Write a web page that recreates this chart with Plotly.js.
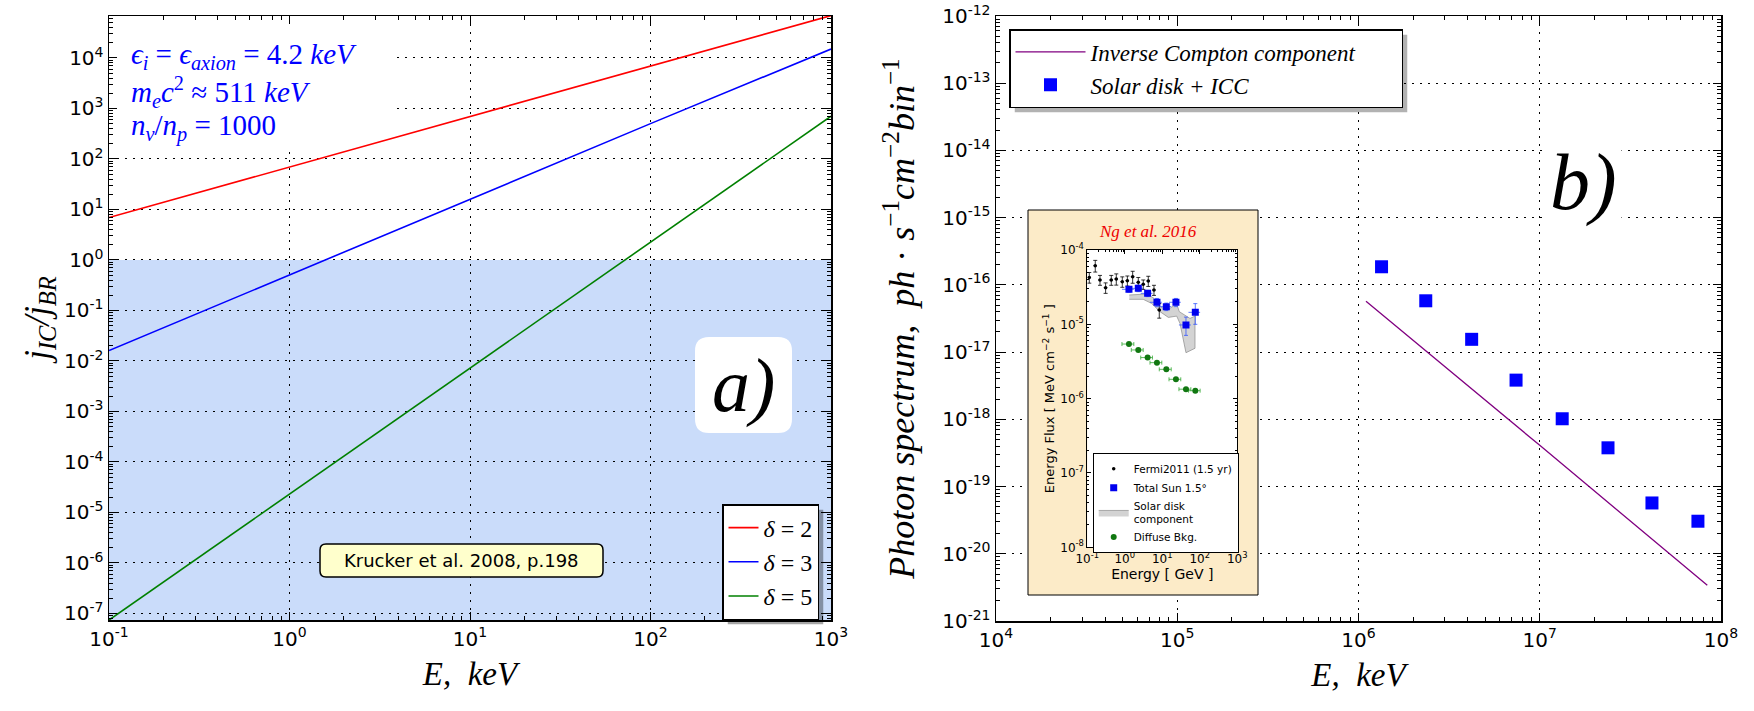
<!DOCTYPE html>
<html><head><meta charset="utf-8">
<script src="https://cdn.plot.ly/plotly-3.0.1.min.js"></script>
<style>html,body{margin:0;padding:0;background:#fff}</style>
</head><body><div id="chart" style="width:1754px;height:711px"></div>
<script>
// ---------- Panel a data ----------
const energyA = [0.1, 1, 10, 100, 1000];
const ratioDelta2 = [6.9, 69, 690, 6900, 69000];
const ratioDelta3 = [0.016, 0.5, 16, 500, 15000];
const ratioDelta5 = [7.4e-8, 2.3e-5, 7.4e-3, 2.3, 700];
const namesA = ['<i>δ</i> = 2', '<i>δ</i> = 3', '<i>δ</i> = 5'];
const xTicksA = [0.1, 1, 10, 100, 1000];
const xTickTextA = ['10<sup>-1</sup>', '10<sup>0</sup>', '10<sup>1</sup>', '10<sup>2</sup>', '10<sup>3</sup>'];
const yTicksA = [1e-7, 1e-6, 1e-5, 1e-4, 1e-3, 1e-2, 1e-1, 1, 10, 100, 1e3, 1e4];
const yTickTextA = ['10<sup>-7</sup>', '10<sup>-6</sup>', '10<sup>-5</sup>', '10<sup>-4</sup>', '10<sup>-3</sup>', '10<sup>-2</sup>', '10<sup>-1</sup>', '10<sup>0</sup>', '10<sup>1</sup>', '10<sup>2</sup>', '10<sup>3</sup>', '10<sup>4</sup>'];
const shadeLimit = 1; // Krucker et al. region j_IC/j_BR < 1

// ---------- Panel b data ----------
const energyIC = [1.1e6, 1e7, 8.4e7];
const fluxIC = [5.7e-17, 4.1e-19, 3.4e-21];
const energyDisk = [1.34e6, 2.35e6, 4.21e6, 7.4e6, 1.33e7, 2.38e7, 4.16e7, 7.46e7];
const fluxDisk = [1.86e-16, 5.8e-17, 1.55e-17, 3.83e-18, 1.02e-18, 3.77e-19, 5.7e-20, 3.05e-20];
const namesB = ['Inverse Compton component', 'Solar disk + ICC'];
const xTicksB = [1e4, 1e5, 1e6, 1e7, 1e8];
const xTickTextB = ['10<sup>4</sup>', '10<sup>5</sup>', '10<sup>6</sup>', '10<sup>7</sup>', '10<sup>8</sup>'];
const yTicksB = [1e-21, 1e-20, 1e-19, 1e-18, 1e-17, 1e-16, 1e-15, 1e-14, 1e-13, 1e-12];
const yTickTextB = ['10<sup>-21</sup>', '10<sup>-20</sup>', '10<sup>-19</sup>', '10<sup>-18</sup>', '10<sup>-17</sup>', '10<sup>-16</sup>', '10<sup>-15</sup>', '10<sup>-14</sup>', '10<sup>-13</sup>', '10<sup>-12</sup>'];

// ---------- Inset (Ng et al. 2016) data ----------
const fermiE = [0.113, 0.163, 0.218, 0.308, 0.436, 0.593, 0.857, 1.17, 1.62, 2.29, 3.11, 4.23, 6.0, 8.3];
const fermiF = [4.28e-5, 6.15e-5, 3.95e-5, 3.11e-5, 3.95e-5, 4.07e-5, 3.75e-5, 3.87e-5, 4.37e-5, 3.67e-5, 3.45e-5, 3.83e-5, 2.9e-5, 1.56e-5];
const fermiFErr = [0.7e-5, 1.1e-5, 0.6e-5, 0.5e-5, 0.6e-5, 0.7e-5, 0.6e-5, 0.6e-5, 0.8e-5, 0.6e-5, 0.5e-5, 0.6e-5, 0.45e-5, 0.35e-5];
const fermiEErr = [0.012, 0.018, 0.024, 0.034, 0.048, 0.065, 0.094, 0.13, 0.18, 0.25, 0.34, 0.47, 0.66, 0.9];
const sunE = [1.29, 2.29, 4.06, 7.2, 12.8, 23.1, 42.8, 75.9];
const sunF = [2.96e-5, 3.05e-5, 2.61e-5, 1.98e-5, 1.73e-5, 1.98e-5, 9.8e-6, 1.45e-5];
const sunFErr = [0.25e-5, 0.3e-5, 0.25e-5, 0.25e-5, 0.2e-5, 0.25e-5, 0.27e-5, 0.45e-5];
const sunEErr = [0.45, 0.8, 1.4, 2.5, 4.5, 8, 15, 26];
const diffuseF = [5.43e-6, 4.52e-6, 3.57e-6, 3.05e-6, 2.48e-6, 1.82e-6, 1.34e-6, 1.28e-6];
const diskBandE = [1.32, 3.84, 6.0, 8.7, 13.6, 24.2, 28.4, 54.8, 74.5, 74.5, 42.8, 29.6, 24.2, 14.5, 8.7, 5.2, 3.1, 1.32];
const diskBandF = [2.48e-5, 2.56e-5, 2.24e-5, 1.73e-5, 1.56e-5, 1.88e-5, 1.48e-5, 1.2e-5, 1.29e-5, 4.76e-6, 4.15e-6, 1.03e-5, 1.29e-5, 1.24e-5, 1.48e-5, 1.91e-5, 2.17e-5, 2.17e-5];
const namesInset = ['Fermi2011 (1.5 yr)', 'Total Sun 1.5°', 'Solar disk<br>component', 'Diffuse Bkg.'];
const xTicksIn = [0.1, 1, 10, 100, 1000];
const xTickTextIn = ['10<sup>-1</sup>', '10<sup>0</sup>', '10<sup>1</sup>', '10<sup>2</sup>', '10<sup>3</sup>'];
const yTicksIn = [1e-8, 1e-7, 1e-6, 1e-5, 1e-4];
const yTickTextIn = ['10<sup>-8</sup>', '10<sup>-7</sup>', '10<sup>-6</sup>', '10<sup>-5</sup>', '10<sup>-4</sup>'];

// ---------- helpers (layout only) ----------
const W = 1754, H = 711;
const PX = p => p / W, PY = p => 1 - p / H;
function minorLog(lo, hi) { const v = []; for (let d = lo; d < hi; d++) for (let k = 2; k <= 9; k++) v.push(k * Math.pow(10, d)); return v; }
function rrect(x0, y0, x1, y1, r) {
  const f = (x, y) => PX(x) + ',' + PY(y);
  return 'M' + f(x0 + r, y0) + ' L' + f(x1 - r, y0) + ' Q' + f(x1, y0) + ' ' + f(x1, y0 + r) +
    ' L' + f(x1, y1 - r) + ' Q' + f(x1, y1) + ' ' + f(x1 - r, y1) +
    ' L' + f(x0 + r, y1) + ' Q' + f(x0, y1) + ' ' + f(x0, y1 - r) +
    ' L' + f(x0, y0 + r) + ' Q' + f(x0, y0) + ' ' + f(x0 + r, y0) + ' Z';
}
const SERIF = 'Liberation Serif, DejaVu Serif, serif';
const SANS = 'DejaVu Sans, sans-serif';
const DOTS = '2px,6px';

function logAxis(extra) {
  return Object.assign({
    type: 'log', showline: true, linecolor: 'black', linewidth: 1.5, mirror: 'allticks',
    ticks: 'inside', ticklen: 8, tickwidth: 1, tickcolor: 'black',
    showgrid: true, gridcolor: 'black', griddash: DOTS, gridwidth: 1, zeroline: false,
    tickmode: 'array', tickfont: {family: SANS, size: 20, color: 'black'},
  }, extra);
}

const traces = [
  {x: energyA, y: ratioDelta2, name: namesA[0], mode: 'lines', line: {color: '#ff0000', width: 1.6}, xaxis: 'x', yaxis: 'y', legend: 'legend'},
  {x: energyA, y: ratioDelta3, name: namesA[1], mode: 'lines', line: {color: '#0000ff', width: 1.6}, xaxis: 'x', yaxis: 'y', legend: 'legend'},
  {x: energyA, y: ratioDelta5, name: namesA[2], mode: 'lines', line: {color: '#008000', width: 1.6}, xaxis: 'x', yaxis: 'y', legend: 'legend'},
  {x: energyIC, y: fluxIC, name: namesB[0] + '\u00a0\u00a0\u00a0\u00a0\u00a0\u00a0\u00a0', mode: 'lines', line: {color: '#800080', width: 1.3}, xaxis: 'x2', yaxis: 'y2', legend: 'legend2'},
  {x: energyDisk, y: fluxDisk, name: namesB[1], mode: 'markers', marker: {symbol: 'square', size: 13, color: '#0000ff'}, xaxis: 'x2', yaxis: 'y2', legend: 'legend2'},
  {x: diskBandE, y: diskBandF, name: namesInset[2], mode: 'lines', fill: 'toself', fillcolor: '#d3d3d3', line: {color: '#8a8a8a', width: 0.7}, xaxis: 'x4', yaxis: 'y4', legend: 'legend3', legendrank: 3},
  {x: fermiE, y: fermiF, name: namesInset[0], mode: 'markers', marker: {symbol: 'circle', size: 3.5, color: 'black'},
   error_y: {type: 'data', array: fermiFErr, color: 'black', thickness: 0.8, width: 2},
   error_x: {type: 'data', array: fermiEErr, color: 'black', thickness: 0.8, width: 0},
   xaxis: 'x4', yaxis: 'y4', legend: 'legend3', legendrank: 1},
  {x: sunE, y: sunF, name: namesInset[1], mode: 'markers', marker: {symbol: 'square', size: 7, color: '#0000ee'},
   error_y: {type: 'data', array: sunFErr, color: '#3355ff', thickness: 0.8, width: 2},
   error_x: {type: 'data', array: sunEErr, color: '#3355ff', thickness: 0.8, width: 0},
   xaxis: 'x4', yaxis: 'y4', legend: 'legend3', legendrank: 2},
  {x: sunE, y: diffuseF, name: namesInset[3], mode: 'markers', marker: {symbol: 'circle', size: 6, color: '#117711'},
   error_x: {type: 'data', array: sunEErr, color: '#33aa33', thickness: 0.8, width: 2},
   xaxis: 'x4', yaxis: 'y4', legend: 'legend3', legendrank: 4},
];

const layout = {
  width: W, height: H, margin: {l: 0, r: 0, t: 0, b: 0},
  paper_bgcolor: 'white', plot_bgcolor: 'white', showlegend: true,
  xaxis: logAxis({domain: [PX(109), PX(831)], range: [-1, 3], anchor: 'y',
    tickvals: xTicksA, ticktext: xTickTextA,
    minor: {tickmode: 'array', tickvals: minorLog(-1, 3), ticks: 'inside', ticklen: 4, tickcolor: 'black', showgrid: false},
    title: {text: '<i>E,  keV</i>', font: {family: SERIF, size: 33, color: 'black'}, standoff: 12}}),
  yaxis: logAxis({domain: [PY(620), PY(16)], range: [-7.13, 4.83], anchor: 'x',
    tickvals: yTicksA, ticktext: yTickTextA,
    minor: {tickmode: 'array', tickvals: minorLog(-8, 5), ticks: 'inside', ticklen: 4, tickcolor: 'black', showgrid: false},
    title: {text: '<i>j</i><sub><i>IC</i></sub><i>/j</i><sub><i>BR</i></sub>', font: {family: SERIF, size: 35, color: 'black'}, standoff: 4}}),
  xaxis2: logAxis({domain: [PX(996), PX(1721)], range: [4, 8], anchor: 'y2',
    tickvals: xTicksB, ticktext: xTickTextB,
    minor: {tickmode: 'array', tickvals: minorLog(4, 8), ticks: 'inside', ticklen: 4, tickcolor: 'black', showgrid: false},
    title: {text: '<i>E,  keV</i>', font: {family: SERIF, size: 33, color: 'black'}, standoff: 12}}),
  yaxis2: logAxis({domain: [PY(621), PY(16)], range: [-21, -12], anchor: 'x2',
    tickvals: yTicksB, ticktext: yTickTextB,
    minor: {tickmode: 'array', tickvals: minorLog(-21, -12), ticks: 'inside', ticklen: 4, tickcolor: 'black', showgrid: false},
    title: {text: '<i>Photon spectrum,  ph</i> · <i>s</i><sup>−1</sup><i>cm</i><sup>−2</sup><i>bin</i><sup>−1</sup>', font: {family: SERIF, size: 36, color: 'black'}, standoff: 16}}),
  // wheat frame behind the inset
  xaxis3: {domain: [PX(1028), PX(1258)], range: [0, 1], anchor: 'y3', visible: false, fixedrange: true},
  yaxis3: {domain: [PY(595), PY(210)], range: [0, 1], anchor: 'x3', visible: false, fixedrange: true},
  // inset plot
  xaxis4: logAxis({domain: [PX(1087.3), PX(1237.3)], range: [-1, 3], anchor: 'y4', showgrid: false, linewidth: 1,
    ticklen: 4, tickvals: xTicksIn, ticktext: xTickTextIn, tickfont: {family: SANS, size: 12, color: 'black'},
    minor: {tickmode: 'array', tickvals: minorLog(-1, 3), ticks: 'inside', ticklen: 2, tickcolor: 'black', showgrid: false},
    title: {text: 'Energy [ GeV ]', font: {family: SANS, size: 14, color: 'black'}, standoff: 4}}),
  yaxis4: logAxis({domain: [PY(547.3), PY(250)], range: [-8, -4], anchor: 'x4', showgrid: false, linewidth: 1,
    ticklen: 4, tickvals: yTicksIn, ticktext: yTickTextIn, tickfont: {family: SANS, size: 12, color: 'black'},
    minor: {tickmode: 'array', tickvals: minorLog(-8, -4), ticks: 'inside', ticklen: 2, tickcolor: 'black', showgrid: false},
    title: {text: 'Energy Flux [ MeV cm<sup>−2</sup> s<sup>−1</sup> ]', font: {family: SANS, size: 13, color: 'black'}, standoff: 2}}),
  legend: {x: PX(722), y: PY(504), xanchor: 'left', yanchor: 'top', bgcolor: 'white', bordercolor: 'black', borderwidth: 1.5,
    font: {family: SERIF, size: 24, color: 'black'}, tracegroupgap: 0, itemwidth: 30},
  legend2: {x: PX(1009), y: PY(29), xanchor: 'left', yanchor: 'top', bgcolor: 'white', bordercolor: 'black', borderwidth: 1.5,
    font: {family: SERIF, size: 23, color: 'black', style: 'italic'}, tracegroupgap: 0, itemwidth: 70},
  legend3: {x: PX(1092.7), y: PY(453.3), xanchor: 'left', yanchor: 'top', bgcolor: 'white', bordercolor: 'black', borderwidth: 1,
    font: {family: SANS, size: 10.5, color: 'black'}, tracegroupgap: 0, itemwidth: 30},
  shapes: [
    // Krucker et al. region (ratio below 1)
    {type: 'rect', xref: 'x', yref: 'y', x0: 0.01, x1: 1e4, y0: 1e-9, y1: shadeLimit, fillcolor: '#cadcfa', line: {width: 0}, layer: 'below'},
    // wheat frame of inset
    {type: 'rect', xref: 'x3', yref: 'y3', x0: 0, x1: 1, y0: 0, y1: 1, fillcolor: '#fcebc8', line: {width: 0}, layer: 'below'},
    {type: 'rect', xref: 'paper', yref: 'paper', x0: PX(1028), x1: PX(1258), y0: PY(595), y1: PY(210), line: {color: 'black', width: 1}, layer: 'above'},
    // legend shadows (repositioned after drawing to the legends' real boxes)
    {type: 'rect', xref: 'paper', yref: 'paper', x0: PX(727), x1: PX(824), y0: PY(613), y1: PY(509), fillcolor: 'rgba(0,0,0,0.35)', line: {width: 0}, layer: 'above'},
    {type: 'rect', xref: 'paper', yref: 'paper', x0: PX(1014), x1: PX(1407), y0: PY(114), y1: PY(34), fillcolor: 'rgba(0,0,0,0.3)', line: {width: 0}, layer: 'above'},
    // rounded boxes
    {type: 'path', xref: 'paper', yref: 'paper', path: rrect(695, 337, 792, 433, 14), fillcolor: 'white', line: {width: 0}, layer: 'above'},
    {type: 'path', xref: 'paper', yref: 'paper', path: rrect(320, 544, 603, 577, 6), fillcolor: '#ffffcc', line: {color: 'black', width: 1.5}, layer: 'above'},
    // white backing of the parameter text (hides gridlines, stays under the curves)
    {type: 'rect', xref: 'x', yref: 'y', x0: 0.05, x1: 3.7, y0: 138, y1: 1e6, fillcolor: 'white', line: {width: 0}, layer: 'between'},
  ],
  annotations: [
    {xref: 'paper', yref: 'paper', x: PX(129), y: PY(56), xanchor: 'left', yanchor: 'middle', showarrow: false,
     text: '<i>ϵ</i><sub><i>i</i></sub> = <i>ϵ</i><sub><i>axion</i></sub> = 4.2 <i>keV</i>', font: {family: SERIF, size: 29, color: '#0000ff'}},
    {xref: 'paper', yref: 'paper', x: PX(129), y: PY(92), xanchor: 'left', yanchor: 'middle', showarrow: false,
     text: '<i>m</i><sub><i>e</i></sub><i>c</i><sup>2</sup> ≈ 511 <i>keV</i>', font: {family: SERIF, size: 29, color: '#0000ff'}},
    {xref: 'paper', yref: 'paper', x: PX(129), y: PY(127), xanchor: 'left', yanchor: 'middle', showarrow: false,
     text: '<i>n</i><sub><i>ν</i></sub>/<i>n</i><sub><i>p</i></sub> = 1000', font: {family: SERIF, size: 29, color: '#0000ff'}},
    {xref: 'paper', yref: 'paper', x: PX(461.5), y: PY(560.5), xanchor: 'center', yanchor: 'middle', showarrow: false,
     text: 'Krucker et al. 2008, p.198', font: {family: SANS, size: 18, color: 'black'}},
    {xref: 'paper', yref: 'paper', x: PX(743), y: PY(385), xanchor: 'center', yanchor: 'middle', showarrow: false,
     text: '<i>a)</i>', font: {family: SERIF, size: 76, color: 'black'}},
    {xref: 'paper', yref: 'paper', x: PX(1583), y: PY(183), xanchor: 'center', yanchor: 'middle', showarrow: false,
     text: '<i>b)</i>', font: {family: SERIF, size: 80, color: 'black'}, bgcolor: 'white', borderpad: 4},
    {xref: 'paper', yref: 'paper', x: PX(1148), y: PY(231), xanchor: 'center', yanchor: 'middle', showarrow: false,
     text: '<i>Ng et al. 2016</i>', font: {family: SERIF, size: 17, color: '#ee0000'}},
  ],
};

Plotly.newPlot('chart', traces, layout, {displayModeBar: false, staticPlot: true}).then(gd => {
  // place the drop shadows exactly behind the drawn legend boxes
  const base = gd.getBoundingClientRect();
  const upd = {};
  [['legend', 3], ['legend2', 4]].forEach(([id, idx]) => {
    const bg = gd.querySelector('g.' + id + ' rect.bg');
    if (!bg) return;
    const r = bg.getBoundingClientRect();
    const x0 = r.left - base.left, y0 = r.top - base.top;
    upd['shapes[' + idx + '].x0'] = PX(x0 + 5);
    upd['shapes[' + idx + '].x1'] = PX(x0 + r.width + 5);
    upd['shapes[' + idx + '].y0'] = PY(y0 + r.height + 5);
    upd['shapes[' + idx + '].y1'] = PY(y0 + 5);
  });
  return Plotly.relayout(gd, upd);
});
</script>
</body></html>
